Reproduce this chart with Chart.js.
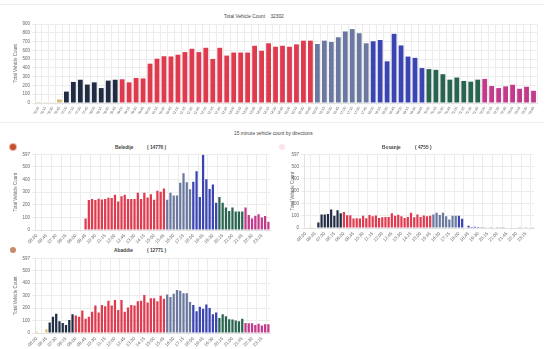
<!DOCTYPE html>
<html lang="en">
<head>
<meta charset="UTF-8">
<title>Vehicle Count Dashboard</title>
<script src="https://cdn.jsdelivr.net/npm/chart.js"></script>
<style>
  body { margin:0; width:550px; height:349px; background:#fff; overflow:hidden; position:relative; font-family:"Liberation Sans", Arial, sans-serif; }
  canvas { position:absolute; }
  .line { position:absolute; left:0; width:544px; height:1px; background:#eeeeee; }
  .txt { position:absolute; white-space:nowrap; color:#444; font-size:4.8px; line-height:6px; }
  .b { font-weight:bold; }
  .dot { position:absolute; width:6px; height:6px; border-radius:50%; }
</style>
</head>
<body>
  <!-- top card -->
  <div class="line" style="top:4px"></div>
  <div class="txt" style="left:224px; top:14px;">Total Vehicle Count &nbsp;&nbsp;&nbsp;32302</div>
  <canvas id="totalChart" width="545" height="104" style="left:0; top:10px"></canvas>
  <div class="line" style="top:122px"></div>

  <!-- directions -->
  <div class="txt" style="left:234px; top:131px;">15 minute vehicle count by directions</div>

  <div class="dot" style="left:10px; top:144px; background:#c4502c; box-shadow:0 0 0 1px #e9b7a8"></div>
  <div class="txt b" style="left:115px; top:145px;">Beledije</div>
  <div class="txt b" style="left:147px; top:145px;">( 14776 )</div>
  <canvas id="beledijeChart" width="272" height="97" style="left:0; top:150px"></canvas>

  <div class="dot" style="left:279px; top:144px; background:#fbe4ec"></div>
  <div class="txt b" style="left:382px; top:145px;">Bosanje</div>
  <div class="txt b" style="left:415px; top:145px;">( 4755 )</div>
  <canvas id="bosanjeChart" width="268" height="95" style="left:270px; top:150px"></canvas>

  <div class="dot" style="left:10px; top:247px; background:#c98a6c"></div>
  <div class="txt b" style="left:114px; top:248px;">Abaddie</div>
  <div class="txt b" style="left:147px; top:248px;">( 12771 )</div>
  <canvas id="abaddieChart" width="272" height="96" style="left:0; top:254px"></canvas>

<script>
  // 15 minute slots
  const timeLabels = [
    '06:00','06:15','06:30','06:45','07:00','07:15','07:30','07:45','08:00','08:15','08:30','08:45',
    '09:00','09:15','09:30','09:45','10:00','10:15','10:30','10:45','11:00','11:15','11:30','11:45',
    '12:00','12:15','12:30','12:45','13:00','13:15','13:30','13:45','14:00','14:15','14:30','14:45',
    '15:00','15:15','15:30','15:45','16:00','16:15','16:30','16:45','17:00','17:15','17:30','17:45',
    '18:00','18:15','18:30','18:45','19:00','19:15','19:30','19:45','20:00','20:15','20:30','20:45',
    '21:00','21:15','21:30','21:45','22:00','22:15','22:30','22:45','23:00','23:15','23:30','23:45'
  ];

  const totalCounts = [
    10, 8, 8, 40, 130, 240, 265, 210, 235, 170, 255, 265,
    270, 235, 285, 280, 448, 505, 533, 530, 550, 580, 618, 580,
    629, 502, 629, 540, 575, 575, 575, 652, 595, 680, 641, 652,
    641, 668, 710, 710, 672, 710, 695, 749, 815, 842, 795, 680,
    703, 718, 475, 788, 656, 529, 514, 398, 386, 378, 328, 266,
    290, 251, 243, 266, 274, 193, 170, 189, 208, 162, 185, 139
  ];

  const beledijeCounts = [
    0, 0, 0, 0, 0, 0, 0, 0, 0, 0, 0, 0,
    0, 0, 0, 92, 237, 245, 237, 247, 242, 245, 255, 253,
    279, 226, 268, 279, 245, 245, 245, 295, 245, 295, 258, 284,
    240, 311, 303, 329, 240, 295, 274, 274, 374, 450, 379, 324,
    382, 466, 261, 597, 403, 326, 361, 216, 261, 216, 179, 150,
    179, 147, 147, 147, 179, 118, 92, 113, 124, 100, 111, 66
  ];

  const bosanjeCounts = [
    0, 2, 2, 0, 45, 110, 110, 115, 150, 100, 145, 120,
    130, 103, 103, 78, 80, 78, 100, 80, 105, 95, 102, 82,
    88, 90, 90, 120, 100, 108, 95, 82, 90, 125, 88, 110,
    90, 102, 95, 100, 110, 125, 105, 125, 95, 70, 100, 100,
    100, 75, 0, 18, 8, 10, 8, 6, 3, 5, 3, 4,
    3, 3, 3, 5, 0, 5, 5, 3, 0, 3, 0, 2
  ];

  const abaddieCounts = [
    10, 5, 5, 30, 85, 130, 155, 95, 80, 65, 105, 150,
    140, 130, 180, 115, 130, 170, 220, 165, 225, 215, 260, 220,
    265, 185, 265, 170, 205, 225, 220, 255, 260, 305, 245, 280,
    280, 255, 300, 275, 310, 290, 315, 345, 340, 320, 320, 250,
    225, 175, 210, 195, 230, 200, 150, 165, 120, 150, 135, 110,
    108, 100, 95, 115, 80, 78, 78, 65, 75, 60, 70, 70
  ];

  const totalTicks = [0, 100, 200, 300, 400, 500, 600, 700, 800, 900];
  const directionTicks = [0, 100, 200, 300, 400, 500, 597];

  // colour blocks by hour of day
  const periodStarts = [6, 7, 9, 16, 18, 20, 22];
  const periodColors = ['#d8bc6c', '#1f2c43', '#e03a4f', '#6b79a0', '#3a45b3', '#28644f', '#c33a8b'];

  function colorFor(label) {
    const h = parseInt(label, 10);
    let c = 0;
    periodStarts.forEach((s, i) => { if (h >= s) c = i; });
    return periodColors[c];
  }
  const barColors = timeLabels.map(colorFor);

  Chart.defaults.font.family = "'Liberation Sans', Arial, sans-serif";
  Chart.defaults.color = '#666';
  Chart.defaults.animation = false;

  function makeBarChart(id, values, o) {
    return new Chart(document.getElementById(id), {
      type: 'bar',
      data: {
        labels: timeLabels,
        datasets: [{ data: values, backgroundColor: barColors, barPercentage: 0.75, categoryPercentage: 0.92 }]
      },
      options: {
        responsive: false,
        layout: { padding: o.padding },
        plugins: { legend: { display: false }, tooltip: { enabled: false } },
        scales: {
          x: {
            grid: { color: '#ececec', tickLength: 2 },
            border: { color: '#e2e2e2' },
            ticks: {
              autoSkip: false,
              font: { size: o.xFont },
              minRotation: o.rot, maxRotation: o.rot,
              padding: 1,
              callback: function (v, i) { return i % o.every === 0 ? timeLabels[i] : null; }
            },
            afterFit: s => { s.height = o.xHeight; }
          },
          y: {
            min: 0, max: o.ticks[o.ticks.length - 1],
            ticks: { font: { size: 4.5 }, padding: 2 },
            afterBuildTicks: s => { s.ticks = o.ticks.map(v => ({ value: v })); },
            grid: { color: '#ececec', tickLength: 3 },
            border: { color: '#e2e2e2' },
            title: { display: true, text: 'Total Vehicle Count', font: { size: 4.5 }, color: '#666', padding: { top: o.titlePad, bottom: 0 } },
            afterFit: s => { s.width = o.yWidth; }
          }
        }
      }
    });
  }

  makeBarChart('totalChart', totalCounts, {
    ticks: totalTicks, padding: { top: 14, right: 8 }, yWidth: 35, xHeight: 11,
    xFont: 3.5, rot: 60, every: 1, titlePad: 13
  });
  makeBarChart('beledijeChart', beledijeCounts, {
    ticks: directionTicks, padding: { top: 4, right: 2 }, yWidth: 35, xHeight: 17,
    xFont: 4.5, rot: 45, every: 3, titlePad: 13
  });
  makeBarChart('bosanjeChart', bosanjeCounts, {
    ticks: directionTicks, padding: { top: 4, right: 4 }, yWidth: 34, xHeight: 17,
    xFont: 4.5, rot: 45, every: 3, titlePad: 20
  });
  makeBarChart('abaddieChart', abaddieCounts, {
    ticks: directionTicks, padding: { top: 4, right: 2 }, yWidth: 35, xHeight: 17,
    xFont: 4.5, rot: 45, every: 3, titlePad: 13
  });
</script>
</body>
</html>
